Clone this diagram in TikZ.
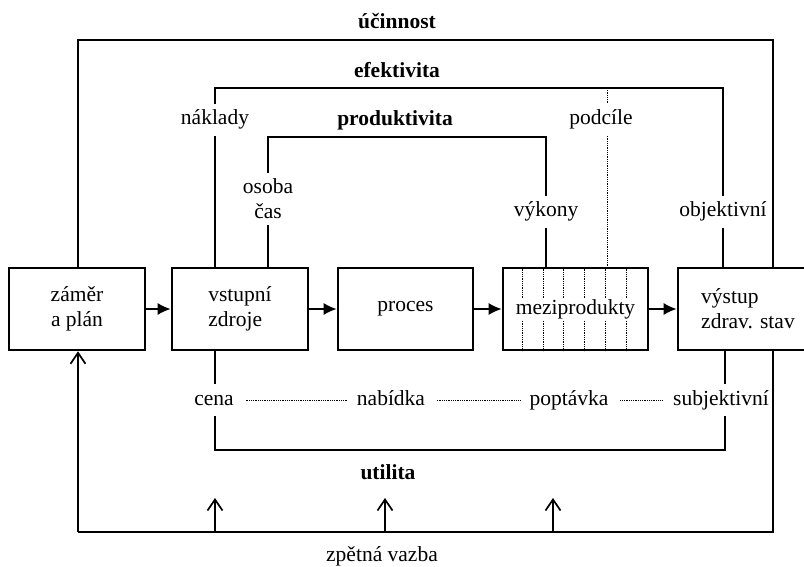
\documentclass[tikz,border=0pt]{standalone}
\usepackage{fontspec}
\setmainfont{Liberation Serif}
\usetikzlibrary{arrows.meta}

\begin{document}
\begin{tikzpicture}[x=1pt, y=-1pt, line width=1.7pt]
\tikzstyle{every node} = [font=\fontsize{21.5}{25}\selectfont, inner sep=3pt]
\tikzstyle{box} = [draw, line width=2.6pt, minimum height=82pt, fill=white]
\tikzstyle{lbl} = [text height=15pt, text depth=5pt, inner sep=5pt]
\tikzstyle{title} = [font=\fontsize{21.5}{25}\selectfont\bfseries]
\tikzstyle{hatch} = [densely dotted, line width=0.8pt]
\tikzstyle{flow} = [-{Latex[length=13pt,width=12pt]}]
\tikzstyle{back} = [-{Straight Barb[length=11pt,width=15pt]}]
\useasboundingbox (0,0) rectangle (804,567);

% boxes
\node[box, minimum width=136pt, align=center] (zamer) at (77,309) {záměr\\a plán};
\node[box, minimum width=136pt, align=left] (vstup) at (240,309) {vstupní\\zdroje};
\node[box, minimum width=135pt] (proces) at (405.5,309) {proces};
\node[box, minimum width=145pt] (mezi) at (575.5,309) {};
\node[box, minimum width=140pt, align=left] (vystup) at (748,309) {výstup\\zdrav. stav};

\foreach \i in {1,...,6}
\draw[hatch] ([xshift=\i*20.7pt]mezi.north west) -- ([xshift=\i*20.7pt]mezi.south west);
\node[fill=white, inner sep=1pt] (mezitext) at (mezi) {meziprodukty};

% labels
\node[title] (ucinnost) at (397,21) {účinnost};
\node[title] (efektivita) at (397,70) {efektivita};
\node[title] (produktivita) at (395,120) {produktivita};
\node[lbl] (naklady) at (215,120) {náklady};
\node[lbl] (podcile) at (601,120) {podcíle};
\node[align=center, inner sep=5pt] (osoba) at (268,199) {osoba\\čas};
\node[lbl] (vykony) at (546,212) {výkony};
\node[lbl] (objektivni) at (723,212) {objektivní};
\node[lbl] (cena) at (214,400) {cena};
\node[lbl] (nabidka) at (391,400) {nabídka};
\node[lbl] (poptavka) at (569,400) {poptávka};
\node[lbl] (subjektivni) at (721,400) {subjektivní};
\node[title] (utilita) at (388,472) {utilita};
\node (zpetna) at (382,556) {zpětná vazba};

\coordinate (uc-tl) at (78,40);
\coordinate (uc-tr) at (773,40);
\coordinate (uc-br) at (773,532);
\coordinate (uc-bl) at (78,532);
\coordinate (ef-l) at (215,88);
\coordinate (ef-r) at (723,88);
\coordinate (pr-l) at (268,137);
\coordinate (pr-r) at (546,137);
\coordinate (pc) at (607,88);
\coordinate (ut-l) at (215,450);
\coordinate (ut-r) at (725,450);

% ucinnost
\draw (zamer.north -| uc-tl) -- (uc-tl) -- (uc-tr) -- (uc-tr |- vystup.north);
\draw (uc-tr |- vystup.south) -- (uc-br) -- (uc-bl);
\draw[back] (uc-bl) -- (uc-bl |- zamer.south);
\foreach \x/\n in {215/1, 385/2, 553/3} {
\coordinate (fb\n) at (\x,532);
\draw[back] (fb\n) -- ++(0,-34);
}

% efektivita
\draw (naklady) -- (ef-l) -- (ef-r) -- (objektivni);
\draw (naklady) -- (naklady |- vstup.north);
\draw (objektivni) -- (objektivni |- vystup.north);
\draw[hatch] (pc) -- (pc |- podcile.north);
\draw[hatch] (pc |- podcile.south) -- (pc |- mezi.north);

% produktivita
\draw (osoba) -- (pr-l) -- (pr-r) -- (vykony);
\draw (osoba) -- (osoba |- vstup.north);
\draw (vykony) -- (vykony |- mezi.north);

% utilita
\draw (cena.north -| ut-l) -- (ut-l |- vstup.south);
\draw (cena.south -| ut-l) -- (ut-l) -- (ut-r) -- (subjektivni.south -| ut-r);
\draw (subjektivni.north -| ut-r) -- (ut-r |- vystup.south);
\foreach \from/\to in {cena/nabidka, nabidka/poptavka, poptavka/subjektivni}
\draw[hatch, shorten <=6pt, shorten >=4pt] (\from) -- (\to);

\foreach \from/\to in {zamer/vstup, vstup/proces, proces/mezi, mezi/vystup}
\draw[flow] (\from) -- (\to);
\end{tikzpicture}
\end{document}
